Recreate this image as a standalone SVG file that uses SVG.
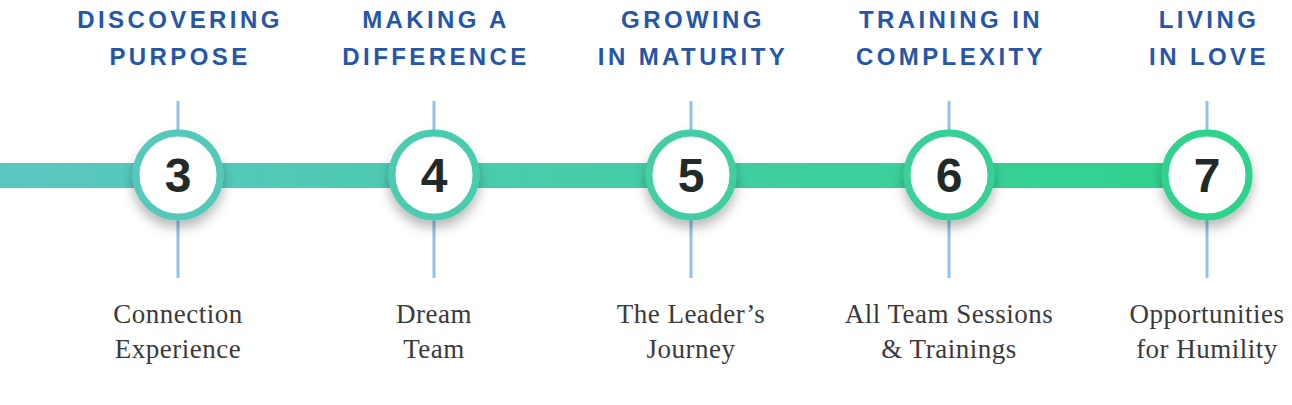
<svg xmlns="http://www.w3.org/2000/svg" width="1292" height="405" viewBox="0 0 1292 405">
<defs>
<linearGradient id="g" gradientUnits="userSpaceOnUse" x1="0" y1="0" x2="1230" y2="0">
<stop offset="0" stop-color="#5cc7c2"/>
<stop offset="1" stop-color="#2ed28c"/>
</linearGradient>
<filter id="sh" x="-40%" y="-40%" width="180%" height="190%">
<feDropShadow dx="0" dy="7" stdDeviation="6" flood-color="#000" flood-opacity="0.28"/>
</filter>
<style>
.head{font-family:"Liberation Sans",Arial,sans-serif;font-weight:bold;font-size:24px;fill:#2556a8;letter-spacing:3.4px;text-anchor:middle}
.num{font-family:"Liberation Sans",Arial,sans-serif;font-weight:bold;font-size:48px;fill:#1f2a29;text-anchor:middle}
.sub{font-family:"Liberation Serif","Times New Roman",serif;font-size:27px;fill:#3a3a3a;letter-spacing:0.5px;text-anchor:middle}
.vline{stroke:#92c1ec;stroke-width:3}
.ring{fill:#fff;stroke:url(#g);stroke-width:7;filter:url(#sh)}
</style>
</defs>
<rect width="1292" height="405" fill="#fff"/>
<g id="connectors">
<rect x="0" y="163" width="1207" height="25" fill="url(#g)"/>
<line class="vline" x1="178" y1="101" x2="178" y2="278"/>
<line class="vline" x1="434" y1="101" x2="434" y2="278"/>
<line class="vline" x1="691" y1="101" x2="691" y2="278"/>
<line class="vline" x1="949" y1="101" x2="949" y2="278"/>
<line class="vline" x1="1207" y1="101" x2="1207" y2="278"/>
</g>
<g id="node3">
<text class="head" x="180" y="28">DISCOVERING</text>
<text class="head" x="180" y="65">PURPOSE</text>
<circle class="ring" cx="178" cy="175" r="42"/>
<text class="num" x="178" y="192">3</text>
<text class="sub" x="178" y="323">Connection</text>
<text class="sub" x="178" y="358">Experience</text>
</g>
<g id="node4">
<text class="head" x="436" y="28">MAKING A</text>
<text class="head" x="436" y="65">DIFFERENCE</text>
<circle class="ring" cx="434" cy="175" r="42"/>
<text class="num" x="434" y="192">4</text>
<text class="sub" x="434" y="323">Dream</text>
<text class="sub" x="434" y="358">Team</text>
</g>
<g id="node5">
<text class="head" x="693" y="28">GROWING</text>
<text class="head" x="693" y="65">IN MATURITY</text>
<circle class="ring" cx="691" cy="175" r="42"/>
<text class="num" x="691" y="192">5</text>
<text class="sub" x="691" y="323">The Leader’s</text>
<text class="sub" x="691" y="358">Journey</text>
</g>
<g id="node6">
<text class="head" x="951" y="28">TRAINING IN</text>
<text class="head" x="951" y="65">COMPLEXITY</text>
<circle class="ring" cx="949" cy="175" r="42"/>
<text class="num" x="949" y="192">6</text>
<text class="sub" x="949" y="323">All Team Sessions</text>
<text class="sub" x="949" y="358">&amp; Trainings</text>
</g>
<g id="node7">
<text class="head" x="1209" y="28">LIVING</text>
<text class="head" x="1209" y="65">IN LOVE</text>
<circle class="ring" cx="1207" cy="175" r="42"/>
<text class="num" x="1207" y="192">7</text>
<text class="sub" x="1207" y="323">Opportunities</text>
<text class="sub" x="1207" y="358">for Humility</text>
</g>
</svg>
